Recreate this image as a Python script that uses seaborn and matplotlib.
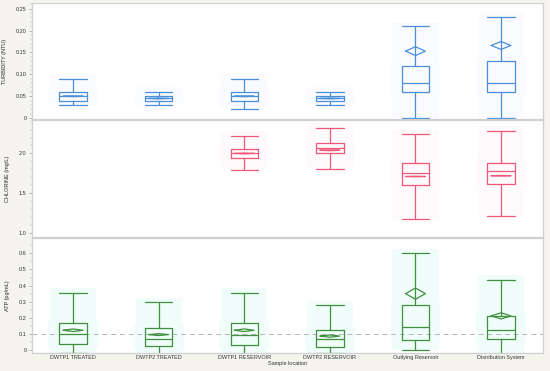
import numpy as np
import pandas as pd
import matplotlib
matplotlib.use("Agg")
import matplotlib.pyplot as plt
from matplotlib.patches import Rectangle
from matplotlib.ticker import MultipleLocator, FuncFormatter
import seaborn as sns

# ---- data (five-number summaries + mean diamonds) ----
locations = ["DWTP1 TREATED", "DWTP2 TREATED", "DWTP1 RESERVOIR",
             "DWTP2 RESERVOIR", "Outlying Reservoir", "Distribution System"]

turb_lo = [0.03, 0.03, 0.02, 0.03, 0.0, 0.0]
turb_q1 = [0.04, 0.04, 0.04, 0.04, 0.06, 0.06]
turb_med = [0.05, 0.045, 0.05, 0.045, 0.08, 0.08]
turb_q3 = [0.06, 0.05, 0.06, 0.05, 0.12, 0.13]
turb_hi = [0.09, 0.06, 0.09, 0.06, 0.21, 0.23]
turb_mean = [0.05, 0.045, 0.05, 0.045, 0.153, 0.166]
turb_ci = [0.001, 0.001, 0.001, 0.001, 0.01, 0.009]

nan = np.nan
chl_lo = [nan, nan, 1.79, 1.81, 1.17, 1.22]
chl_q1 = [nan, nan, 1.94, 2.00, 1.60, 1.61]
chl_med = [nan, nan, 2.00, 2.07, 1.755, 1.775]
chl_q3 = [nan, nan, 2.06, 2.13, 1.88, 1.88]
chl_hi = [nan, nan, 2.22, 2.32, 2.24, 2.28]
chl_mean = [nan, nan, 2.0, 2.04, 1.71, 1.72]
chl_ci = [nan, nan, 0.005, 0.006, 0.004, 0.004]

atp_lo = [-0.015, -0.03, -0.028, -0.015, 0.0, -0.03]
atp_q1 = [0.035, 0.023, 0.032, 0.021, 0.064, 0.066]
atp_med = [0.097, 0.066, 0.096, 0.068, 0.146, 0.123]
atp_q3 = [0.166, 0.134, 0.166, 0.123, 0.28, 0.214]
atp_hi = [0.357, 0.297, 0.357, 0.278, 0.6, 0.435]
atp_mean = [0.123, 0.096, 0.123, 0.087, 0.35, 0.212]
atp_ci = [0.008, 0.006, 0.008, 0.007, 0.035, 0.019]
atp_limit = 0.1


def long_frame(lo, q1, med, q3, hi):
    # five points per location -> quartiles/whiskers land on the read values
    rows = []
    for i, loc in enumerate(locations):
        if np.isnan(med[i]):
            continue
        for v in (lo[i], q1[i], med[i], q3[i], hi[i]):
            rows.append({"location": loc, "value": v})
    return pd.DataFrame(rows)


sns.set_style("white")
plt.rcParams["font.family"] = ["Liberation Sans", "DejaVu Sans"]
FS = 4

fig = plt.figure(figsize=(5.5, 3.71), dpi=100)
fig.patch.set_facecolor("#f5f5ee")
H = 371.0
L, W = 32 / 550, 511 / 550


def add_ax(ytop, ybot):
    return fig.add_axes([L, 1 - ybot / H, W, (ybot - ytop) / H])


ax_t = add_ax(3, 119)
ax_c = add_ax(120, 237)
ax_a = add_ax(238, 353)

BW = 0.32
panels = [
    (ax_t, (turb_lo, turb_q1, turb_med, turb_q3, turb_hi), turb_mean, turb_ci,
     "#4a8fd8", "#f9fbfe", (-0.002, 0.263), 0.05, 0.01, "TURBIDITY (NTU)",
     lambda v, p: "0" if abs(v) < 1e-9 else f"{v:.2f}"),
    (ax_c, (chl_lo, chl_q1, chl_med, chl_q3, chl_hi), chl_mean, chl_ci,
     "#f0587a", "#fefafb", (0.95, 2.42), 0.5, 0.1, "CHLORINE (mg/L)",
     lambda v, p: f"{v:.1f}"),
    (ax_a, (atp_lo, atp_q1, atp_med, atp_q3, atp_hi), atp_mean, atp_ci,
     "#3f8f3f", "#f0fdfa", (-0.018, 0.695), 0.1, 0.05, "ATP (pg/mL)",
     lambda v, p: "0" if abs(v) < 1e-9 else f"{v:.1f}"),
]

for ax, stats, means, cis, col, shade, ylim, major, minor, ylab, fmt in panels:
    lo, q1, med, q3, hi = stats
    df = long_frame(lo, q1, med, q3, hi)
    span = ylim[1] - ylim[0]

    # faint background bands behind each box
    for i in range(len(locations)):
        if np.isnan(med[i]):
            continue
        ax.add_patch(Rectangle((i - 0.27, lo[i]), 0.54, hi[i] - lo[i] + span * 0.04,
                               facecolor=shade, edgecolor="none", zorder=0))
        ax.add_patch(Rectangle((i - 0.29, q1[i] - span * 0.03), 0.58,
                               q3[i] - q1[i] + span * 0.06,
                               facecolor=shade, edgecolor="none", zorder=0))

    sns.boxplot(data=df, x="location", y="value", order=locations, ax=ax,
                fill=False, color=col, width=BW, whis=np.inf, linewidth=0.9,
                capwidths=BW, showfliers=False,
                medianprops={"color": col, "linewidth": 0.9})

    # mean diamonds
    for i in range(len(locations)):
        if np.isnan(means[i]):
            continue
        hw = 0.115
        xs = [i - hw, i, i + hw, i, i - hw]
        ys = [means[i], means[i] + cis[i], means[i], means[i] - cis[i], means[i]]
        ax.plot(xs, ys, color=col, lw=0.9, zorder=4)

    ax.set_xlim(-0.48, 5.49)
    ax.set_ylim(*ylim)
    ax.yaxis.set_major_locator(MultipleLocator(major))
    ax.yaxis.set_minor_locator(MultipleLocator(minor))
    ax.yaxis.set_major_formatter(FuncFormatter(fmt))
    ax.set_ylabel(ylab, fontsize=FS, labelpad=6)
    ax.set_xlabel("")
    ax.tick_params(axis="y", which="major", left=True, length=2.5, width=0.4,
                   labelsize=FS, pad=1.5, color="#888888", labelcolor="#333333")
    ax.tick_params(axis="y", which="minor", left=True, length=1.3, width=0.3, color="#aaaaaa")
    ax.tick_params(axis="x", length=0)
    ax.set_facecolor("white")
    for s in ax.spines.values():
        s.set_color("#cfcfcf")
        s.set_linewidth(0.9)

for ax in (ax_t, ax_c):
    ax.set_xticklabels([])

ax_a.axhline(atp_limit, color="#b5b5b5", lw=0.7, ls=(0, (5, 4)), zorder=1)
ax_a.set_xticks(range(len(locations)))
ax_a.set_xticklabels(locations, fontsize=FS, color="#333333")
ax_a.tick_params(axis="x", pad=1.5)
ax_a.set_xlabel("Sample location", fontsize=FS, labelpad=1, color="#333333")

fig.savefig("out.png", dpi=100, facecolor=fig.get_facecolor())
